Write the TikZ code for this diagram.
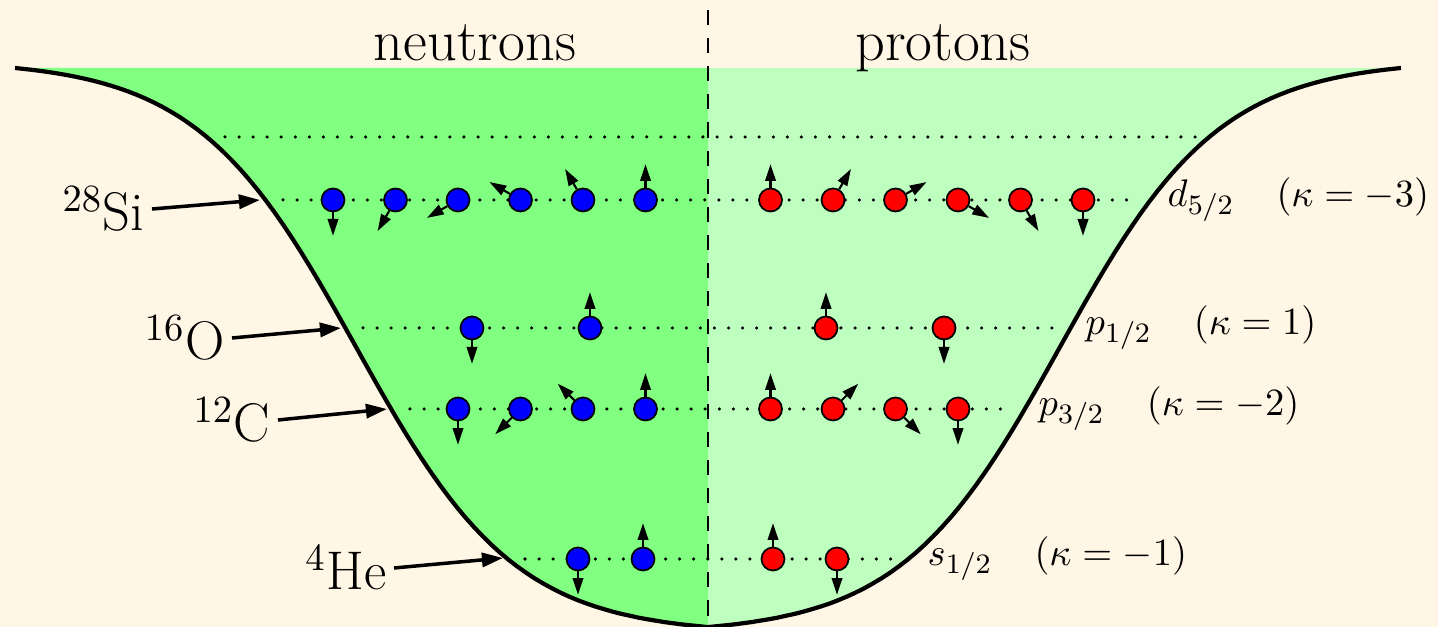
\documentclass[tikz,border=0pt]{standalone}
\usetikzlibrary{arrows.meta}
\definecolor{cream}{RGB}{255,246,230}
\definecolor{darkgreen}{RGB}{128,255,128}
\definecolor{lightgreen}{RGB}{190,255,192}

\begin{document}
\begin{tikzpicture}[
  neutron/.style={circle, draw=black, fill=blue, line width=0.5pt, minimum size=0.23cm, inner sep=0pt},
  proton/.style={neutron, fill=red},
  spin/.style={line width=0.6pt, -{Triangle[length=4.8pt,width=3pt]}},
  level/.style={line width=1pt, line cap=round, dash pattern=on 0pt off 4pt},
  nucleus/.style={font=\fontsize{15.5}{18}\selectfont, inner sep=2pt, anchor=east},
  pointer/.style={line width=1pt, -{Triangle[length=6pt,width=4pt]}},
  shell/.style={font=\fontsize{11.4}{14}\selectfont, inner sep=2pt, anchor=west}
]

\useasboundingbox (-7.08,0) rectangle (7.30,6.27);
\fill[cream] (-7.08,0) rectangle (7.30,6.27);

%%%% well (Woods-Saxon)
\def\well{5.7393*(0.98787-1/(1+exp((abs(\x)-3.52)/0.8)))}
\fill[darkgreen] plot[domain=-6.93:0, samples=81] (\x,{\well}) -- (0,5.59) -- cycle;
\fill[lightgreen] plot[domain=0:6.93, samples=81] (\x,{\well}) -- (0,5.59) -- cycle;
\draw[black, line width=1.2pt] plot[domain=-6.93:6.93, samples=161] (\x,{\well});

%%%% neutrons | protons
\draw[black, line width=0.6pt, dash pattern=on 4.3pt off 3.7pt] (0,6.17) -- (0,0);
\node[font=\fontsize{16.6}{20}\selectfont, anchor=base] (neut) at (-2.33,5.66) {neutrons};
\node[font=\fontsize{16.6}{20}\selectfont, anchor=base] (prot) at (2.35,5.66) {protons};

%%%% levels
\draw[level] (-4.83,4.90) -- (4.90,4.90);
\draw[level] (-4.25,4.27) -- (4.25,4.27);
\draw[level] (-3.45,2.99) -- (3.45,2.99);
\draw[level] (-2.98,2.18) -- (2.98,2.18);
\draw[level] (-1.83,0.68) -- (1.83,0.68);

%%%% d5/2
\foreach \x/\a [count=\i] in {-3.75/-90,-3.125/-120,-2.5/-150,-1.875/150,-1.25/120,-0.625/90} {
  \node[neutron] (nd\i) at (\x,4.27) {};
  \draw[spin] (nd\i.\a) -- ++(\a:0.235);
}
\foreach \x/\a [count=\i] in {0.625/90,1.25/60,1.875/30,2.5/-30,3.125/-60,3.75/-90} {
  \node[proton] (pd\i) at (\x,4.27) {};
  \draw[spin] (pd\i.\a) -- ++(\a:0.235);
}

%%%% p1/2
\foreach \x/\a [count=\i] in {-2.36/-90,-1.18/90} {
  \node[neutron] (np\i) at (\x,2.99) {};
  \draw[spin] (np\i.\a) -- ++(\a:0.235);
}
\foreach \x/\a [count=\i] in {1.18/90,2.36/-90} {
  \node[proton] (pp\i) at (\x,2.99) {};
  \draw[spin] (pp\i.\a) -- ++(\a:0.235);
}

%%%% p3/2
\foreach \x/\a [count=\i] in {-2.5/-90,-1.875/-135,-1.25/135,-0.625/90} {
  \node[neutron] (nq\i) at (\x,2.18) {};
  \draw[spin] (nq\i.\a) -- ++(\a:0.235);
}
\foreach \x/\a [count=\i] in {0.625/90,1.25/45,1.875/-45,2.5/-90} {
  \node[proton] (pq\i) at (\x,2.18) {};
  \draw[spin] (pq\i.\a) -- ++(\a:0.235);
}

%%%% s1/2
\foreach \x/\a [count=\i] in {-1.3/-90,-0.65/90} {
  \node[neutron] (ns\i) at (\x,0.68) {};
  \draw[spin] (ns\i.\a) -- ++(\a:0.235);
}
\foreach \x/\a [count=\i] in {0.65/90,1.29/-90} {
  \node[proton] (ps\i) at (\x,0.68) {};
  \draw[spin] (ps\i.\a) -- ++(\a:0.235);
}

%%%% shell labels
\node[shell] (d52) at (4.52,4.27) {$d_{5/2}$\hspace{12pt}$(\kappa=-3)$};
\node[shell] (p12) at (3.70,2.99) {$p_{1/2}$\hspace{12pt}$(\kappa=1)$};
\node[shell] (p32) at (3.23,2.18) {$p_{3/2}$\hspace{12pt}$(\kappa=-2)$};
\node[shell] (s12) at (2.12,0.68) {$s_{1/2}$\hspace{12pt}$(\kappa=-1)$};

%%%% nuclei
\coordinate (sitip) at (-4.48,4.27);
\coordinate (otip) at (-3.67,2.99);
\coordinate (ctip) at (-3.21,2.18);
\coordinate (hetip) at (-2.05,0.69);
\node[nucleus] (si) at (-5.56,4.18) {$^{28}$Si};
\node[nucleus] (ox) at (-4.76,2.89) {$^{16}$O};
\node[nucleus] (ca) at (-4.30,2.07) {$^{12}$C};
\node[nucleus] (he) at (-3.14,0.59) {$^{4}$He};
\draw[pointer] (si.east) -- (sitip);
\draw[pointer] (ox.east) -- (otip);
\draw[pointer] (ca.east) -- (ctip);
\draw[pointer] (he.east) -- (hetip);

\end{tikzpicture}
\end{document}
